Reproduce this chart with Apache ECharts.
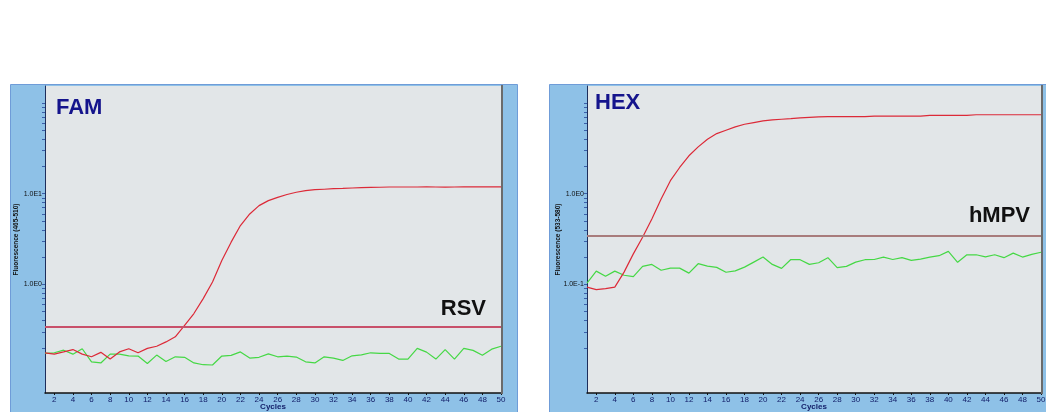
<!DOCTYPE html>
<html>
<head>
<meta charset="utf-8">
<title>Real-time PCR amplification: FAM / HEX</title>
<script src="https://cdn.jsdelivr.net/npm/echarts@6/dist/echarts.min.js"></script>
<style>
  html, body { margin: 0; padding: 0; background: #ffffff; }
  #chart { width: 1046px; height: 412px; }
</style>
</head>
<body>
<div id="chart"></div>
<script>
// PCR cycle numbers
const cycles = [1, 2, 3, 4, 5, 6, 7, 8, 9, 10, 11, 12, 13, 14, 15, 16, 17, 18, 19, 20,
  21, 22, 23, 24, 25, 26, 27, 28, 29, 30, 31, 32, 33, 34, 35, 36, 37, 38, 39, 40,
  41, 42, 43, 44, 45, 46, 47, 48, 49, 50];

// FAM channel (465-510): RSV positive sample and negative trace
const famRsv = [0.176, 0.170, 0.180, 0.191, 0.170, 0.159, 0.178, 0.150, 0.180, 0.195,
  0.176, 0.197, 0.208, 0.232, 0.264, 0.354, 0.477, 0.697, 1.06, 1.835,
  2.92, 4.45, 5.98, 7.38, 8.38, 9.10, 9.80, 10.38, 10.8, 11.06,
  11.2, 11.35, 11.43, 11.55, 11.64, 11.72, 11.78, 11.85, 11.85, 11.85,
  11.85, 11.92, 11.85, 11.82, 11.85, 11.88, 11.88, 11.88, 11.88, 11.88];
const famNeg = [0.173, 0.176, 0.188, 0.170, 0.195, 0.140, 0.136, 0.170, 0.170, 0.163,
  0.162, 0.134, 0.166, 0.141, 0.159, 0.157, 0.136, 0.130, 0.129, 0.162,
  0.165, 0.180, 0.154, 0.157, 0.171, 0.159, 0.162, 0.158, 0.140, 0.136,
  0.159, 0.154, 0.145, 0.163, 0.167, 0.176, 0.173, 0.173, 0.150, 0.150,
  0.197, 0.179, 0.150, 0.191, 0.150, 0.197, 0.187, 0.165, 0.193, 0.208];
const famThreshold = 0.345;

// HEX channel (533-580): hMPV positive sample and negative trace
const hexHmpv = [0.0933, 0.0875, 0.0897, 0.0933, 0.1365, 0.217, 0.331, 0.527, 0.875, 1.39,
  1.945, 2.62, 3.28, 3.99, 4.60, 5.01, 5.45, 5.83, 6.08, 6.34,
  6.50, 6.62, 6.72, 6.84, 6.96, 7.02, 7.07, 7.07, 7.07, 7.07,
  7.07, 7.16, 7.16, 7.16, 7.16, 7.16, 7.16, 7.29, 7.29, 7.29,
  7.29, 7.29, 7.42, 7.42, 7.42, 7.42, 7.42, 7.42, 7.42, 7.42];
const hexNeg = [0.103, 0.140, 0.123, 0.140, 0.126, 0.122, 0.158, 0.166, 0.143, 0.151,
  0.151, 0.133, 0.169, 0.159, 0.154, 0.136, 0.141, 0.155, 0.176, 0.200,
  0.166, 0.150, 0.188, 0.187, 0.166, 0.173, 0.197, 0.153, 0.158, 0.176,
  0.187, 0.188, 0.200, 0.188, 0.197, 0.184, 0.190, 0.200, 0.207, 0.231,
  0.175, 0.212, 0.212, 0.201, 0.212, 0.197, 0.221, 0.200, 0.214, 0.226];
const hexThreshold = 0.34;

// Axis ranges and tick labels
const xTickLabels = [2, 4, 6, 8, 10, 12, 14, 16, 18, 20, 22, 24, 26, 28, 30,
  32, 34, 36, 38, 40, 42, 44, 46, 48, 50];
const famRange = [0.0634, 154];
const hexRange = [0.00634, 15.4];
const famDecades = [0, 1];    // exponents labelled as 1.0E..
const hexDecades = [-1, 0];
const mantissas = [2, 3, 4, 5, 6, 7, 8, 9];

// tick positions (in log10 space) for one panel: decades plus 2..9 subdivisions
function logTicks(decades) {
  const out = [];
  const lo = decades[0], hi = decades[decades.length - 1];
  for (let e = lo - 1; e <= hi; e++) {
    mantissas.forEach(m => out.push(Math.log10(m) + e));
    out.push(e + 1);
  }
  decades.forEach(e => out.push(e));
  return out;
}

const pairs = arr => cycles.map((c, i) => [c, arr[i]]);

const FONT = 'Liberation Sans, Arial, sans-serif';
const NAVY = '#14206a';

function xAxisFor(gridIndex) {
  return {
    type: 'value', gridIndex: gridIndex, min: 1, max: 50, position: 'bottom',
    name: 'Cycles', nameLocation: 'middle', nameGap: 10, nameMoveOverlap: false,
    nameTextStyle: { fontFamily: FONT, fontSize: 8, fontWeight: 'bold', color: NAVY },
    axisLine: { show: true, onZero: false, lineStyle: { color: '#111111', width: 1.5 } },
    axisTick: { show: true, length: 2, customValues: xTickLabels, lineStyle: { color: '#111111' } },
    axisLabel: { customValues: xTickLabels, fontFamily: FONT, fontSize: 8, color: NAVY, margin: 3 },
    splitLine: { show: false }
  };
}

function logAxisFor(gridIndex, range) {
  return {
    type: 'log', gridIndex: gridIndex, min: range[0], max: range[1], position: 'left',
    show: false, splitLine: { show: false }
  };
}

function tickAxisFor(gridIndex, range, decades, title) {
  return {
    type: 'value', gridIndex: gridIndex, position: 'left', offset: 0,
    min: Math.log10(range[0]), max: Math.log10(range[1]),
    name: title, nameLocation: 'middle', nameGap: 25, nameRotate: 90, nameMoveOverlap: false,
    nameTextStyle: { fontFamily: FONT, fontSize: 6.5, fontWeight: 'bold', color: '#111111' },
    axisLine: { show: true, onZero: false, lineStyle: { color: '#1d2e5c', width: 1 } },
    axisTick: { show: true, length: 3, customValues: logTicks(decades), lineStyle: { color: '#3a5fa8' } },
    axisLabel: {
      customValues: decades, fontFamily: FONT, fontSize: 7, color: '#111111', margin: 3,
      formatter: v => '1.0E' + Math.round(v)
    },
    splitLine: { show: false }
  };
}

function curve(name, data, xi, yi, color, width) {
  return {
    name: name, type: 'line', xAxisIndex: xi, yAxisIndex: yi,
    data: pairs(data), showSymbol: false, symbol: 'none', smooth: false,
    lineStyle: { color: color, width: width }, itemStyle: { color: color },
    clip: true, silent: true, z: 3
  };
}

function threshold(value, xi, yi, color) {
  return {
    name: 'threshold', type: 'line', xAxisIndex: xi, yAxisIndex: yi, data: [],
    markLine: {
      silent: true, symbol: 'none', label: { show: false },
      lineStyle: { color: color, width: 2, type: 'solid' },
      data: [{ yAxis: value }]
    },
    z: 2
  };
}

const chart = echarts.init(document.getElementById('chart'), null, { renderer: 'canvas' });

chart.setOption({
  animation: false,
  backgroundColor: '#ffffff',
  grid: [
    { left: 45, top: 86, width: 456, height: 307, show: true, backgroundColor: '#e2e6e8',
      borderWidth: 0, containLabel: false, outerBoundsMode: 'none' },
    { left: 587, top: 86, width: 454, height: 307, show: true, backgroundColor: '#e2e6e8',
      borderWidth: 0, containLabel: false, outerBoundsMode: 'none' }
  ],
  xAxis: [xAxisFor(0), xAxisFor(1)],
  yAxis: [
    logAxisFor(0, famRange),
    tickAxisFor(0, famRange, famDecades, 'Fluorescence (465-510)'),
    logAxisFor(1, hexRange),
    tickAxisFor(1, hexRange, hexDecades, 'Fluorescence (533-580)')
  ],
  series: [
    threshold(famThreshold, 0, 0, '#c8506a'),
    curve('FAM negative', famNeg, 0, 0, '#45d845', 1.2),
    curve('RSV', famRsv, 0, 0, '#dc2a38', 1.2),
    threshold(hexThreshold, 1, 2, '#a87c7c'),
    curve('HEX negative', hexNeg, 1, 2, '#45d845', 1.2),
    curve('hMPV', hexHmpv, 1, 2, '#dc2a38', 1.2)
  ],
  graphic: [
    // instrument panel frames
    { type: 'rect', z: -10, shape: { x: 10.5, y: 84.5, width: 507, height: 340 },
      style: { fill: '#8ec1e7', stroke: '#6f9cd8', lineWidth: 1 } },
    { type: 'rect', z: -10, shape: { x: 549.5, y: 84.5, width: 510, height: 340 },
      style: { fill: '#8ec1e7', stroke: '#6f9cd8', lineWidth: 1 } },
    // right edges of the plot areas
    { type: 'line', z: 10, shape: { x1: 502, y1: 85, x2: 502, y2: 394 },
      style: { stroke: '#6b6b6b', lineWidth: 2 } },
    { type: 'line', z: 10, shape: { x1: 1042, y1: 85, x2: 1042, y2: 394 },
      style: { stroke: '#6b6b6b', lineWidth: 2 } },
    // channel and target labels
    { type: 'text', z: 10, style: { text: 'FAM', x: 56, y: 108, fill: '#14148c',
      font: 'bold 22px ' + FONT, align: 'left', verticalAlign: 'middle' } },
    { type: 'text', z: 10, style: { text: 'RSV', x: 486, y: 308.5, fill: '#111111',
      font: 'bold 22px ' + FONT, align: 'right', verticalAlign: 'middle' } },
    { type: 'text', z: 10, style: { text: 'HEX', x: 595, y: 103, fill: '#14148c',
      font: 'bold 22px ' + FONT, align: 'left', verticalAlign: 'middle' } },
    { type: 'text', z: 10, style: { text: 'hMPV', x: 1030, y: 216, fill: '#111111',
      font: 'bold 22px ' + FONT, align: 'right', verticalAlign: 'middle' } }
  ]
});
</script>
</body>
</html>
